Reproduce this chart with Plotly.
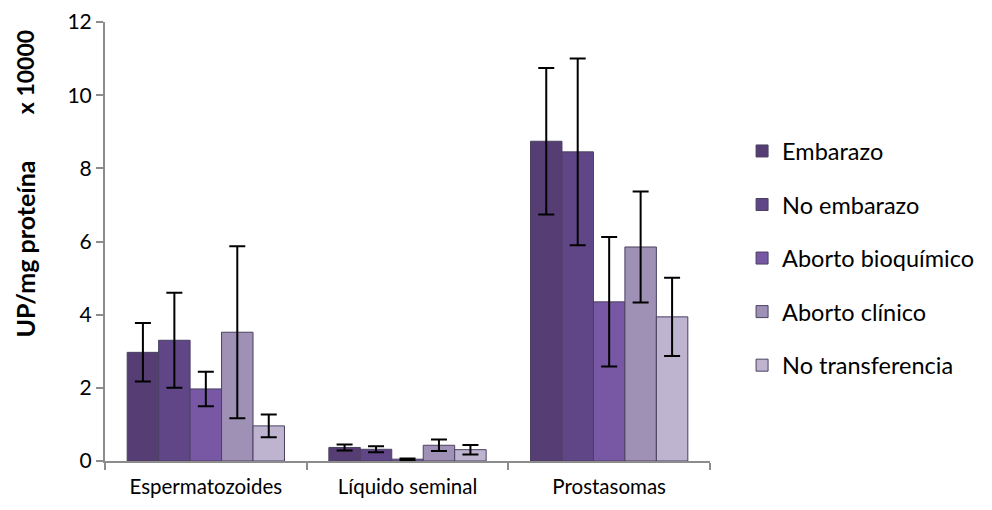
import plotly.graph_objects as go

categories = ["Espermatozoides", "Líquido seminal", "Prostasomas"]
series_names = ["Embarazo", "No embarazo", "Aborto bioquímico", "Aborto clínico", "No transferencia"]
embarazo = [2.97, 0.37, 8.74]
embarazo_err = [0.80, 0.08, 2.00]
no_embarazo = [3.30, 0.32, 8.45]
no_embarazo_err = [1.30, 0.08, 2.55]
aborto_bioq = [1.97, 0.05, 4.35]
aborto_bioq_err = [0.47, 0.02, 1.77]
aborto_clin = [3.52, 0.43, 5.85]
aborto_clin_err = [2.35, 0.16, 1.52]
no_transf = [0.96, 0.31, 3.94]
no_transf_err = [0.31, 0.13, 1.07]

values = [embarazo, no_embarazo, aborto_bioq, aborto_clin, no_transf]
errors = [embarazo_err, no_embarazo_err, aborto_bioq_err, aborto_clin_err, no_transf_err]
colors = ["#563e74", "#614687", "#7858a5", "#9f90b5", "#bfb4cf"]

fig = go.Figure()
for i, (name, v, e, c) in enumerate(zip(series_names, values, errors, colors)):
    fig.add_trace(go.Bar(
        x=categories, y=v, name=name, legendgroup=name,
        marker=dict(color=c, line=dict(color="#4a4060", width=1)),
        error_y=dict(type="data", array=e, visible=True, color="black", thickness=2, width=8),
    ))

font_family = "Lato, 'Open Sans', sans-serif"
fig.update_layout(
    width=992, height=510,
    margin=dict(l=105, r=282, t=22, b=49, autoexpand=False),
    paper_bgcolor="white", plot_bgcolor="white",
    barmode="group", bargap=0.22, bargroupgap=0,
    font=dict(family=font_family, size=20, color="black"),
    showlegend=True,
    legend=dict(x=1.053, y=0.462, xanchor="left", yanchor="middle",
                traceorder="grouped", tracegroupgap=20,
                font=dict(size=23.5), itemwidth=30),
    xaxis=dict(showline=True, linecolor="#8c8c8c", linewidth=2,
               ticks="outside", tickson="boundaries", ticklen=7, tickcolor="#8c8c8c",
               tickwidth=2, showgrid=False, tickfont=dict(size=20.5),
               ticklabelstandoff=6),
    yaxis=dict(range=[0, 12], dtick=2, showline=True, linecolor="#8c8c8c", linewidth=2,
               ticks="outside", ticklen=7, tickcolor="#8c8c8c", tickwidth=2,
               showgrid=False, zeroline=False, tickfont=dict(size=21)),
    annotations=[
        dict(text="<b>UP/mg proteína</b>", textangle=-90, xref="paper", yref="paper",
             x=-0.132, y=0.482, xanchor="center", yanchor="middle", showarrow=False,
             font=dict(size=25)),
        dict(text="<b>x 10000</b>", textangle=-90, xref="paper", yref="paper",
             x=-0.132, y=0.886, xanchor="center", yanchor="middle", showarrow=False,
             font=dict(size=23)),
    ],
)

fig.write_html("out.html")
